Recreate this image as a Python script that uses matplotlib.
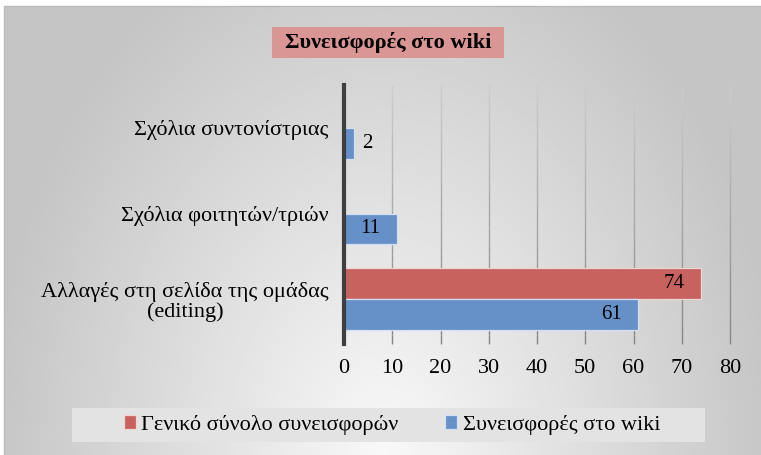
import numpy as np
import matplotlib
matplotlib.use('Agg')
import matplotlib.pyplot as plt
from matplotlib.patches import Rectangle
from matplotlib.collections import LineCollection

plt.rcParams['font.family'] = ['Liberation Serif', 'DejaVu Serif']

# data
categories = ['Αλλαγές στη σελίδα της ομάδας\n(editing)', 'Σχόλια φοιτητών/τριών', 'Σχόλια συντονίστριας']
total_vals = [74, None, None]     # Γενικό σύνολο συνεισφορών
wiki_vals = [61, 11, 2]           # Συνεισφορές στο wiki
series_names = ['Γενικό σύνολο συνεισφορών', 'Συνεισφορές στο wiki']
xticks = [0, 10, 20, 30, 40, 50, 60, 70, 80]
title = 'Συνεισφορές στο wiki'

red = '#c7625f'
blue = '#6590c8'
W, H = 761., 455.

fig = plt.figure(figsize=(W/100, H/100), dpi=100)

# background: radial-ish gradient, lightest at top centre
bg = fig.add_axes([0, 0, 1, 1], zorder=-10)
gx, gy = np.meshgrid(np.linspace(0, W, 300), np.linspace(0, H, 200))
d = np.sqrt(((gx - 385) / 400.) ** 2 + (gy / 560.) ** 2)
d = np.clip(d, 0, 1)
light, dark = 0.975, 0.77
img = light + (dark - light) * d
bg.imshow(img, cmap='gray', vmin=0, vmax=1, aspect='auto', extent=[0, 1, 1, 0])
bg.set_xlim(0, 1)
bg.set_ylim(0, 1)
bg.axis('off')
# white margin on top/left and thin frame
bg.add_patch(Rectangle((0, 0), 4/W, 1, facecolor='white', edgecolor='none'))
bg.add_patch(Rectangle((0, 1-6/H), 1, 6/H, facecolor='white', edgecolor='none'))
bg.add_patch(Rectangle((4/W, -0.01), 1, 1-6/H+0.01, fill=False, edgecolor='#bcbcbc', lw=1))

ax = fig.add_axes([344/W, 1-342/H, (730-344)/W, (342-85)/H])
ax.patch.set_alpha(0)

y = np.arange(len(categories))
h = 0.36
tv = [np.nan if v is None else v for v in total_vals]
b1 = ax.barh(y + h/2, tv, height=h, color=red, edgecolor='#f2d4d4', lw=0.9, label=series_names[0], zorder=3)
b2 = ax.barh(y - h/2, wiki_vals, height=h, color=blue, edgecolor='#d4e0f2', lw=0.9, label=series_names[1], zorder=3)

def label(v, yy):
    if v >= 5:
        ax.annotate(str(v), (v, yy), xytext=(-12, 0), textcoords='offset points',
                    ha='right', va='center', fontsize=15, zorder=4)
    else:
        ax.annotate(str(v), (v, yy), xytext=(6, 0), textcoords='offset points',
                    ha='left', va='center', fontsize=15, zorder=4)

for yy, v in zip(y + h/2, total_vals):
    if v is not None:
        label(v, yy)
for yy, v in zip(y - h/2, wiki_vals):
    label(v, yy)

ax.set_xlim(0, 80)
ax.set_ylim(-0.5, 2.5)
ax.set_xticks(xticks)
ax.set_xticklabels([str(t) for t in xticks], fontsize=16)
ax.set_yticks(y)
ax.set_yticklabels(categories, fontsize=16, ha='right', linespacing=1.0)
for t in ax.get_yticklabels():
    t.set_multialignment('center')
ax.tick_params(length=0)
ax.tick_params(axis='x', pad=12)
ax.tick_params(axis='y', pad=11)

# gridlines, fading from light at the top to darker at the bottom
ys = np.linspace(2.5, -0.52, 30)
segs, cols = [], []
for xt in xticks[1:]:
    for i in range(len(ys) - 1):
        segs.append([(xt, ys[i]), (xt, ys[i+1])])
        t = i / (len(ys) - 2)
        g = 0.8 - 0.28 * t
        cols.append((g, g, g))
ax.add_collection(LineCollection(segs, colors=cols, lw=1, zorder=1, clip_on=False))

for s in ['top', 'right', 'bottom']:
    ax.spines[s].set_visible(False)
ax.spines['left'].set_color('#3f3f3f')
ax.spines['left'].set_linewidth(3)
ax.spines['left'].set_bounds(-0.52, 2.5)
ax.spines['left'].set_zorder(5)

# title
bg.add_patch(Rectangle((272/W, 1-58/H), 232/W, 31/H, facecolor='#d99694', edgecolor='none'))
fig.text(388/W, 1-42.5/H, title, ha='center', va='center', fontsize=16, fontweight='bold')

# legend
bg.add_patch(Rectangle((72/W, 1-442/H), 633/W, 34/H, facecolor='#e3e3e3', edgecolor='none'))
fig.legend(handles=[b1, b2], labels=series_names, loc='center', bbox_to_anchor=(392/W, 1-425/H),
           ncol=2, frameon=False, fontsize=16, handlelength=0.55, handleheight=0.55,
           handletextpad=0.25, columnspacing=2.1)

fig.savefig('out.png', dpi=100)
